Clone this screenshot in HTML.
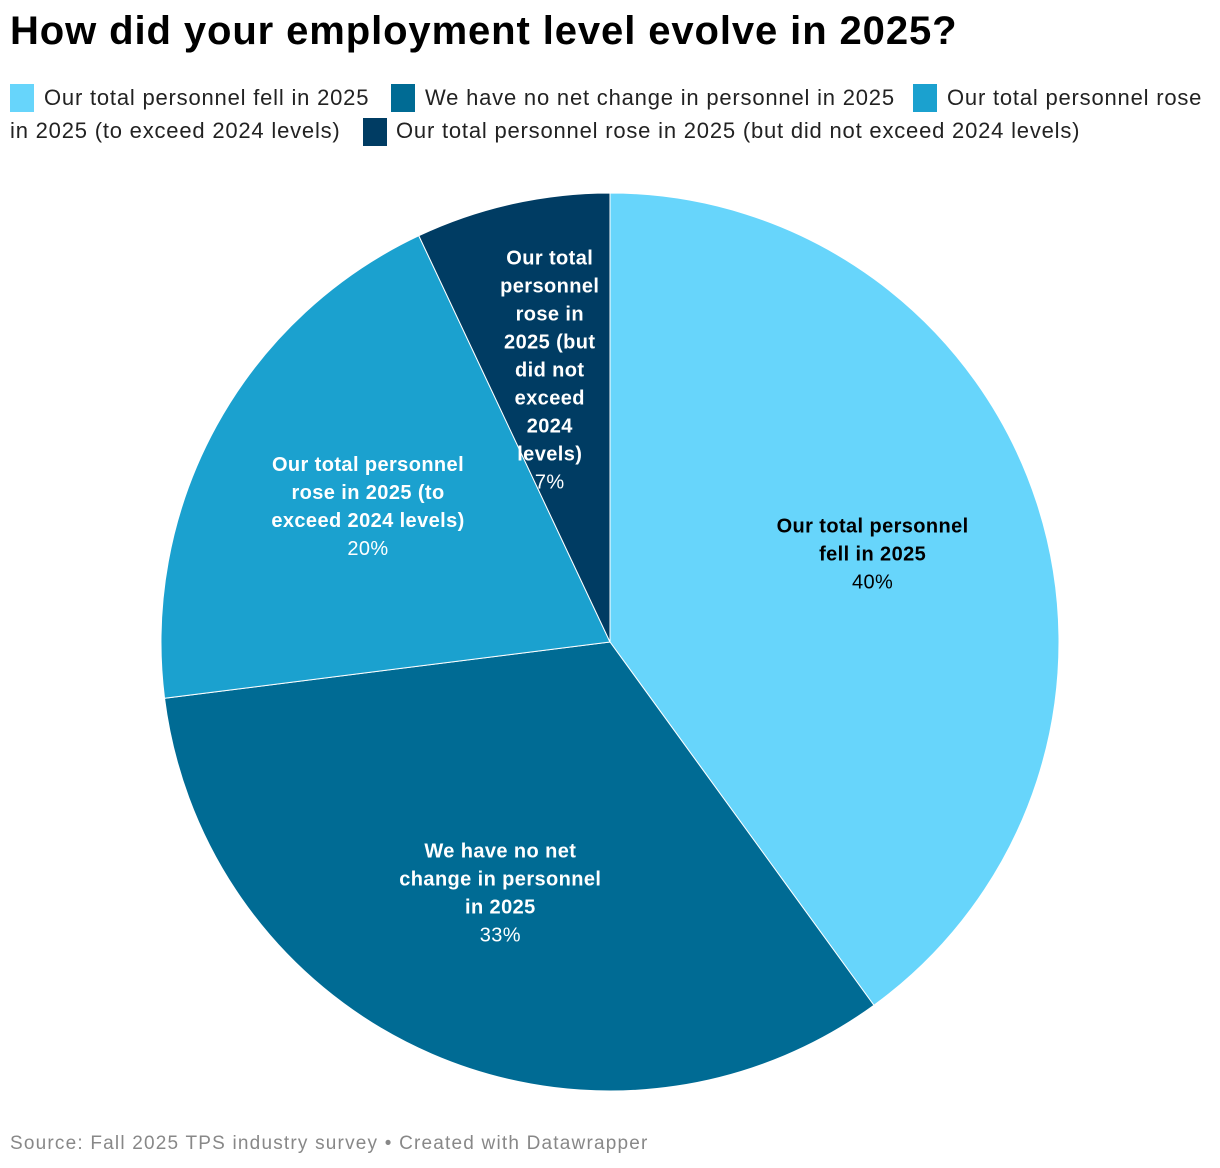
<!DOCTYPE html>
<html><head><meta charset="utf-8"><style>
body{margin:0;width:1220px;height:1168px;background:#fff;font-family:"Liberation Sans",sans-serif;position:relative;overflow:hidden}
h1{position:absolute;left:10px;top:9px;margin:0;font-size:40px;font-weight:bold;color:#000;letter-spacing:0.9px}
.lg{position:absolute;font-size:22px;color:#222;white-space:nowrap;letter-spacing:0.8px}
.sw{position:absolute;width:24px;height:28px}
.src{position:absolute;left:10px;top:1133px;font-size:19px;color:#888;letter-spacing:1.2px}
</style></head><body>
<h1>How did your employment level evolve in 2025?</h1>
<div>
<div class="sw" style="left:10px;top:84px;background:#67d5fb"></div>
<div class="lg" style="left:44px;top:85px">Our total personnel fell in 2025</div>
<div class="sw" style="left:391px;top:84px;background:#006b94"></div>
<div class="lg" style="left:425px;top:85px">We have no net change in personnel in 2025</div>
<div class="sw" style="left:913px;top:84px;background:#1ba1cf"></div>
<div class="lg" style="left:947px;top:85px">Our total personnel rose</div>
<div class="lg" style="left:10px;top:118px">in 2025 (to exceed 2024 levels)</div>
<div class="sw" style="left:363px;top:118px;background:#003c63"></div>
<div class="lg" style="left:396px;top:118px">Our total personnel rose in 2025 (but did not exceed 2024 levels)</div>
</div>
<svg id="pie" width="1220" height="1168" style="position:absolute;left:0;top:0"></svg>
<div class="src">Source: Fall 2025 TPS industry survey • Created with Datawrapper</div>
<script>
const categories=[["Our total personnel","fell in 2025"],["We have no net","change in personnel","in 2025"],["Our total personnel","rose in 2025 (to","exceed 2024 levels)"],["Our total","personnel","rose in","2025 (but","did not","exceed","2024","levels)"]];
const values=[40,33,20,7];
const colors=["#67d5fb","#006b94","#1ba1cf","#003c63"];
const textColors=["#000","#fff","#fff","#fff"];
const cx=610,cy=642,R=449,NS="http://www.w3.org/2000/svg";
const svg=document.getElementById('pie');
const total=values.reduce((a,b)=>a+b,0);
function pt(a,r){return [cx+r*Math.sin(a),cy-r*Math.cos(a)];}
let acc=0;
values.forEach((v,i)=>{
  const a0=acc/total*2*Math.PI;acc+=v;const a1=acc/total*2*Math.PI;
  const p0=pt(a0,R),p1=pt(a1,R);
  const p=document.createElementNS(NS,'path');
  p.setAttribute('d',`M${cx},${cy}L${p0[0]},${p0[1]}A${R},${R} 0 ${a1-a0>Math.PI?1:0} 1 ${p1[0]},${p1[1]}Z`);
  p.setAttribute('fill',colors[i]);p.setAttribute('stroke','#fff');p.setAttribute('stroke-width','1');
  
  
  svg.appendChild(p);
  const c=pt((a0+a1)/2,R*0.615);
  const lines=categories[i];const n=lines.length+1;
  const t=document.createElementNS(NS,'text');
  t.setAttribute('text-anchor','middle');t.setAttribute('fill',textColors[i]);
  t.setAttribute('font-size','20');t.setAttribute('font-family','Liberation Sans, sans-serif');
  t.setAttribute('letter-spacing','0.4');
  
  
  const y0=c[1]-(n-1)*28/2+4;
  lines.concat([v+'%']).forEach((s,j)=>{
    const ts=document.createElementNS(NS,'tspan');
    ts.setAttribute('x',c[0]);ts.setAttribute('y',y0+j*28);
    if(j<lines.length)ts.setAttribute('font-weight','bold');
    ts.textContent=s;t.appendChild(ts);
  });
  svg.appendChild(t);
});
</script>
</body></html>
